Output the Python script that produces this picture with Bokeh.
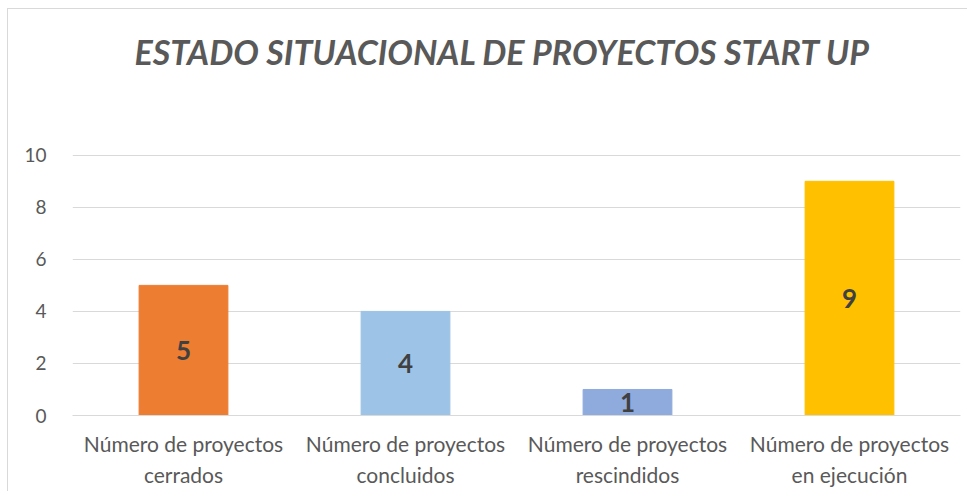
from bokeh.plotting import figure
from bokeh.models import ColumnDataSource, Range1d, FixedTicker, LabelSet, Title
from bokeh.core.properties import value
from bokeh.embed import file_html
from bokeh.resources import INLINE

title_text = "ESTADO SITUACIONAL DE PROYECTOS START UP"
categories = [
    "Número de proyectos\ncerrados",
    "Número de proyectos\nconcluidos",
    "Número de proyectos\nrescindidos",
    "Número de proyectos\nen ejecución",
]
values = [5, 4, 1, 9]
colors = ["#ED7D31", "#9DC3E6", "#8FAADC", "#FFC000"]
y_ticks = [0, 2, 4, 6, 8, 10]

src = ColumnDataSource(dict(
    cat=categories,
    val=values,
    mid=[v / 2 for v in values],
    lbl=[str(v) for v in values],
    color=colors,
))

p = figure(
    x_range=categories,
    y_range=Range1d(0, 10.03),
    width=960, height=483,
    output_backend="svg", toolbar_location=None,
    title=title_text,
    min_border_left=64, min_border_right=8,
    min_border_top=145, min_border_bottom=77,
)
p.styles = {"margin-left": "7px", "margin-top": "8px",
            "border-top": "1px solid #d9d9d9", "border-left": "1px solid #d9d9d9"}
p.outline_line_color = None

p.vbar(x="cat", top="val", width=0.4, color="color", source=src)

labels = LabelSet(x="cat", y="mid", text="lbl", source=src,
                  text_align="center", text_baseline="middle",
                  text_font=value("Lato"), text_font_style="bold",
                  text_font_size="26px", text_color="#404040")
p.add_layout(labels)

# spacer panel between the title and the plot area
p.add_layout(Title(text=" ", text_font_size="1px", standoff=60), "above")

p.title.text_font = "Lato"
p.title.text_font_style = "bold italic"
p.title.text_font_size = "34px"
p.title.text_color = "#595959"
p.title.align = "left"
p.title.offset = 62
p.title.vertical_align = "top"
p.title.standoff = 36

p.xgrid.grid_line_color = None
p.ygrid.grid_line_color = "#D9D9D9"
p.ygrid.grid_line_width = 1
p.yaxis.ticker = FixedTicker(ticks=y_ticks)

p.yaxis.axis_line_color = None
p.yaxis.major_tick_line_color = None
p.yaxis.minor_tick_line_color = None
p.yaxis.major_label_standoff = 20
p.yaxis.major_label_text_font = "Lato"
p.yaxis.major_label_text_font_size = "19px"
p.yaxis.major_label_text_color = "#595959"

p.xaxis.axis_line_color = "#D9D9D9"
p.xaxis.axis_line_width = 1
p.xaxis.major_tick_line_color = None
p.xaxis.minor_tick_line_color = None
p.xaxis.major_label_standoff = 9
p.xaxis.major_label_text_font = "Lato"
p.xaxis.major_label_text_font_size = "21px"
p.xaxis.major_label_text_color = "#595959"
p.xaxis.major_label_text_line_height = 1.25

open("out.html", "w").write(file_html(p, INLINE))
